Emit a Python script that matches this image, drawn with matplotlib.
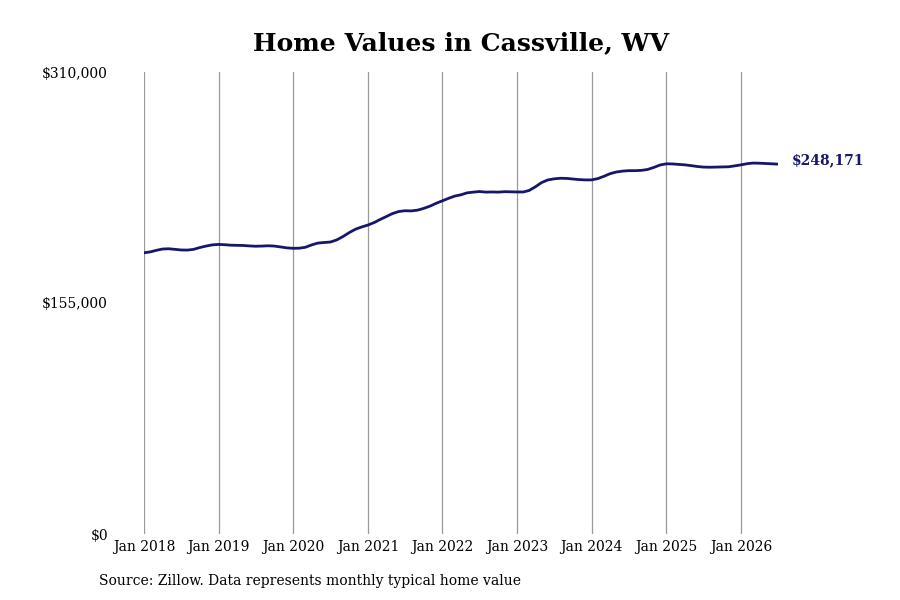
import matplotlib.pyplot as plt
import numpy as np
import pandas as pd

# monthly typical home value, Jan 2018 .. Jul 2026
values_2018 = [188700, 189300, 190300, 191200, 191400, 191000, 190600, 190500, 191000, 192200, 193200, 194000]
values_2019 = [194300, 194100, 193800, 193700, 193600, 193300, 193100, 193200, 193400, 193200, 192600, 192000]
values_2020 = [191700, 191800, 192400, 194000, 195200, 195600, 195900, 197300, 199600, 202200, 204500, 206000]
values_2021 = [207300, 209000, 211000, 213000, 215000, 216400, 216900, 216800, 217300, 218500, 220000, 221900]
values_2022 = [223600, 225300, 226700, 227600, 228900, 229400, 229800, 229400, 229500, 229400, 229700, 229600]
values_2023 = [229500, 229500, 230500, 233000, 235800, 237600, 238300, 238700, 238600, 238200, 237800, 237600]
values_2024 = [237600, 238500, 240000, 241800, 242900, 243500, 243800, 243800, 244000, 244600, 246000, 247600]
values_2025 = [248400, 248300, 248000, 247700, 247200, 246600, 246200, 246100, 246200, 246300, 246400, 247000]
values_2026 = [247700, 248500, 248900, 248800, 248600, 248400, 248171]

values = (values_2018 + values_2019 + values_2020 + values_2021 + values_2022
          + values_2023 + values_2024 + values_2025 + values_2026)
dates = pd.date_range('2018-01-01', periods=len(values), freq='MS')

tick_years = list(range(2018, 2027))
tick_dates = [pd.Timestamp(f'{y}-01-01') for y in tick_years]
tick_labels = [f'Jan {y}' for y in tick_years]
y_ticks = [0, 155000, 310000]
y_labels = ['$0', '$155,000', '$310,000']

line_color = '#16166b'
plt.rcParams['font.family'] = 'DejaVu Serif'

fig = plt.figure(figsize=(9, 6), dpi=100)
ax = fig.add_axes([0.16, 0.11, 0.7044, 0.77])

ax.plot(dates, values, color=line_color, linewidth=2.0, solid_capstyle='round')
ax.annotate(f'${values[-1]:,}', xy=(dates[-1], values[-1]), xytext=(10, 3),
            textcoords='offset points', ha='left', va='center',
            fontsize=10, fontweight='bold', color=line_color)

ax.set_xlim(dates[0], dates[-1])
ax.set_ylim(0, 310000)
ax.set_xticks(tick_dates)
ax.set_xticklabels(tick_labels)
ax.set_yticks(y_ticks)
ax.set_yticklabels(y_labels)
ax.tick_params(axis='both', length=0, labelsize=10, colors='black')
ax.tick_params(axis='y', pad=26)
ax.tick_params(axis='x', pad=4)
ax.grid(True, axis='x', color='#999999', linewidth=0.9)
ax.grid(False, axis='y')
for s in ax.spines.values():
    s.set_visible(False)

fig.text(0.512, 0.928, 'Home Values in Cassville, WV', ha='center', va='center',
         fontsize=18, fontweight='bold')
fig.text(0.11, 0.031, 'Source: Zillow. Data represents monthly typical home value',
         ha='left', va='center', fontsize=10)

fig.savefig('out.png', dpi=100)
